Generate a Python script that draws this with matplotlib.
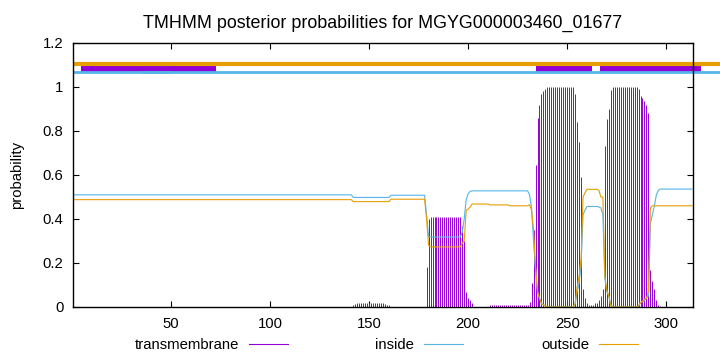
import matplotlib
matplotlib.use("Agg")
import matplotlib.pyplot as plt
from matplotlib.lines import Line2D

plt.rcParams['font.family'] = ['Liberation Sans', 'DejaVu Sans']
plt.rcParams['font.size'] = 10.7

# 序列长度与标题
seq_len = 313
title = "TMHMM posterior probabilities for MGYG000003460_01677"

# 跨膜概率（每个残基一个值，从图上读出）
tm_prob = ([0.0] * 141
           + [0.01, 0.015] + [0.02] * 14 + [0.015, 0.01, 0.01]          # 142-160
           + [0.0] * 18                                                 # 161-178
           + [0.18, 0.40] + [0.41] * 16 + [0.37, 0.30, 0.07, 0.04, 0.03, 0.02]  # 179-202
           + [0.0] * 8                                                  # 203-210
           + [0.007] * 19                                               # 211-229
           + [0.01, 0.025]                                              # 230-231
           + [0.11, 0.35, 0.645, 0.86, 0.92, 0.97, 0.98, 0.99]          # 232-239
           + [1.0] * 14                                                 # 240-253
           + [0.97, 0.84, 0.75, 0.59, 0.08, 0.04]                       # 254-259
           + [0.02, 0.01, 0.01, 0.01, 0.02]                             # 260-264
           + [0.02, 0.03, 0.05, 0.08]                                   # 265-268
           + [0.73, 0.855, 0.9, 0.985]                                  # 269-272
           + [1.0] * 13                                                 # 273-285
           + [0.99, 0.96, 0.95, 0.935, 0.92, 0.88, 0.17, 0.12, 0.08, 0.03, 0.01, 0.005]  # 286-297
           + [0.0] * 16)                                                # 298-313

# inside 概率
inside_prob = ([0.51] * 141
               + [0.498] * 19
               + [0.508] * 18
               + [0.42, 0.32] + [0.318] * 16 + [0.34, 0.40, 0.49, 0.515, 0.525]   # 179-201
               + [0.528] * 29                                                     # 202-230
               + [0.51, 0.45, 0.30, 0.17, 0.07, 0.04, 0.015, 0.01, 0.005]         # 231-239
               + [0.0] * 14                                                       # 240-253
               + [0.015, 0.07, 0.11, 0.19, 0.42, 0.44]                            # 254-259
               + [0.457] * 6 + [0.455, 0.45, 0.42]                                # 260-268
               + [0.13, 0.07, 0.05, 0.01]                                         # 269-272
               + [0.0] * 13                                                       # 273-285
               + [0.005, 0.02, 0.025, 0.03, 0.04, 0.05, 0.38, 0.42, 0.46, 0.51, 0.53]  # 286-296
               + [0.536] * 17)                                                    # 297-313

# outside 概率
outside_prob = ([0.488] * 141
                + [0.479] * 19
                + [0.49] * 18
                + [0.40, 0.28] + [0.273] * 16 + [0.29, 0.30, 0.44, 0.445, 0.455]  # 179-201
                + [0.468] * 9 + [0.464] * 10 + [0.46] * 10                        # 202-230
                + [0.465, 0.44, 0.35, 0.185, 0.07, 0.04, 0.015, 0.01, 0.005]      # 231-239
                + [0.0] * 14                                                      # 240-253
                + [0.015, 0.09, 0.14, 0.22, 0.50, 0.52]                           # 254-259
                + [0.535] * 6 + [0.53, 0.50, 0.50]                                # 260-268
                + [0.14, 0.075, 0.05, 0.005]                                      # 269-272
                + [0.0] * 13                                                      # 273-285
                + [0.005, 0.02, 0.025, 0.035, 0.04, 0.07, 0.45, 0.46]             # 286-293
                + [0.46] * 20)                                                    # 294-313

residues = list(range(1, seq_len + 1))

# 顶部拓扑条
tm_short_boxes = [(4.5, 72.7), (256.6, 262.6), (266.7, 269.2), (291.4, 317.7)]
tm_tall_boxes = [(234.3, 256.6), (269.2, 291.4)]
inside_overlay = [(35.4, 50.5)]
track_end = 327.3

purple = '#9400D3'
blue = '#56B4E9'
orange = '#E69F00'

fig = plt.figure(figsize=(7.2, 3.52), dpi=100)
ax = fig.add_axes([73 / 720, 45 / 352, 620 / 720, 264 / 352])

# 跨膜概率用脉冲线
ax.vlines(residues, 0, tm_prob, color=purple, lw=0.7)
ax.plot(residues, inside_prob, color=blue, lw=0.8)
ax.plot(residues, outside_prob, color=orange, lw=0.8)

# 顶部拓扑
ax.plot([0.5, track_end], [1.105, 1.105], color=orange, lw=3, clip_on=False, solid_capstyle='butt')
ax.plot([0.5, track_end], [1.068, 1.068], color=blue, lw=2, clip_on=False, solid_capstyle='butt')
for a, b in tm_short_boxes:
    ax.fill_between([a, b], 1.065, 1.099, color=purple, lw=0, clip_on=False)
for a, b in tm_tall_boxes:
    ax.fill_between([a, b], 1.065, 1.109, color=purple, lw=0, clip_on=False)
for a, b in inside_overlay:
    ax.plot([a, b], [1.068, 1.068], color=blue, lw=2, clip_on=False, solid_capstyle='butt')

ax.set_xlim(0.5, 313.5)
ax.set_ylim(0, 1.2)
ax.set_xticks([50, 100, 150, 200, 250, 300])
ax.set_yticks([0, 0.2, 0.4, 0.6, 0.8, 1.0, 1.2])
ax.set_yticklabels(['0', '0.2', '0.4', '0.6', '0.8', '1', '1.2'])
ax.tick_params(direction='in', length=4, width=0.8, top=True, right=True, pad=7)
for s in ax.spines.values():
    s.set_linewidth(1)
ax.set_ylabel('probability', labelpad=13)
ax.set_title(title, pad=10.6)

# 图例放在底部
legend_items = [('transmembrane', purple, 239, 249, 288),
                ('inside', blue, 414, 424, 463),
                ('outside', orange, 589, 599, 638)]
y_text = 1 - 349 / 352
y_line = 1 - 344 / 352
for label, col, tx, x0, x1 in legend_items:
    fig.text(tx / 720, y_text, label, ha='right', va='baseline')
    fig.add_artist(Line2D([x0 / 720, x1 / 720], [y_line, y_line], color=col, lw=0.8))

fig.savefig('out.png', dpi=100)
